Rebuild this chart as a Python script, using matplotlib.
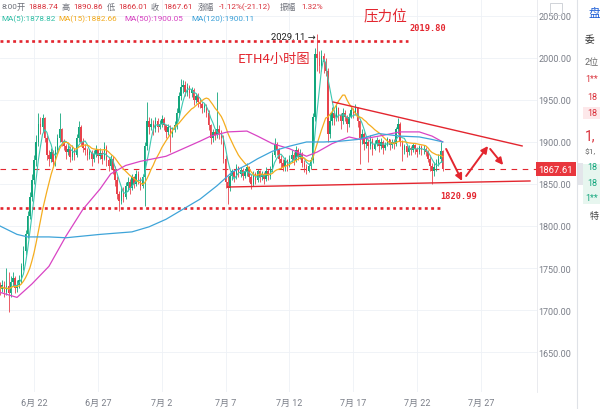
import numpy as np
import pandas as pd
import matplotlib
matplotlib.use('Agg')
import matplotlib.pyplot as plt
import matplotlib.transforms as mtransforms
from matplotlib.patches import Rectangle

plt.rcParams['font.family'] = ['Roboto', 'Noto Sans CJK SC', 'DejaVu Sans']

# ETH 4h candles, 6/19 08:00 -> 7/24
first_open = 1730
close = [1725, 1730, 1722, 1728, 1720, 1733, 1738, 1726, 1730, 1736,
         1752, 1770, 1790, 1812, 1835, 1855, 1878, 1900, 1922,
         1918, 1928, 1905, 1885,
         1880, 1888, 1876, 1890,
         1905, 1915, 1900,
         1895, 1888, 1892, 1882, 1890, 1885,
         1905, 1918, 1900, 1893,
         1890, 1884, 1888, 1880, 1886, 1890, 1883, 1887,
         1880, 1894, 1878, 1872, 1880, 1868,
         1855, 1838, 1830, 1842, 1835, 1848,
         1852, 1845, 1858, 1850, 1862, 1855, 1848, 1858,
         1895, 1925, 1918,
         1922, 1915, 1925, 1918, 1922, 1927, 1920,
         1912, 1918, 1910, 1915, 1920,
         1935, 1955, 1965, 1968, 1960,
         1965, 1958, 1962, 1950, 1955, 1948, 1945,
         1940, 1943, 1935, 1920,
         1905, 1912, 1908,
         1915, 1910, 1905,
         1880, 1852, 1845,
         1860, 1865, 1858, 1870, 1862, 1867, 1860, 1865, 1870, 1858,
         1850, 1862, 1855, 1865, 1858, 1862, 1856, 1866, 1860, 1868,
         1885, 1898, 1890,
         1880, 1875, 1870, 1878, 1872, 1880,
         1885, 1878, 1890, 1882, 1886, 1875,
         1870, 1866, 1872, 1878,
         1930, 2005, 2000, 1990, 2002, 1995, 1985,
         1910, 1925,
         1935, 1928, 1940, 1932, 1925, 1935, 1930, 1922, 1930, 1938, 1935, 1940,
         1925, 1905, 1910, 1898,
         1900, 1895, 1903, 1892, 1898, 1902, 1895, 1900, 1893, 1897, 1903, 1896, 1900, 1898,
         1915, 1922, 1900,
         1890, 1895, 1888, 1893, 1890, 1896, 1892, 1888, 1894, 1890, 1892, 1888,
         1880, 1872, 1865,
         1870, 1875, 1880, 1888.74,
         1867.61]
high = [1733, 1736, 1734, 1750, 1745, 1740, 1745, 1740, 1736, 1742,
        1756, 1776, 1795, 1818, 1840, 1862, 1884, 1908, 1935,
        1930, 1933, 1930, 1908,
        1890, 1893, 1890, 1895,
        1910, 1935, 1917,
        1903, 1898, 1897, 1895, 1896, 1893,
        1910, 1925, 1920, 1905,
        1898, 1893, 1892, 1890, 1890, 1896, 1892, 1893,
        1890, 1900, 1896, 1882, 1885, 1883,
        1872, 1860, 1842, 1847, 1846, 1852,
        1858, 1856, 1862, 1860, 1867, 1865, 1858, 1862,
        1900, 1948, 1930,
        1928, 1926, 1930, 1928, 1926, 1932, 1930,
        1922, 1922, 1920, 1918, 1925,
        1940, 1960, 1975, 1974, 1972,
        1970, 1968, 1966, 1964, 1958, 1958, 1952,
        1948, 1947, 1945, 1938,
        1922, 1916, 1915,
        1959, 1920, 1914,
        1908, 1884, 1860,
        1863, 1868, 1867, 1874, 1872, 1870, 1869, 1868, 1875, 1872,
        1862, 1866, 1864, 1868, 1867, 1866, 1864, 1870, 1868, 1872,
        1888, 1905, 1900,
        1893, 1884, 1880, 1882, 1880, 1885,
        1890, 1888, 1895, 1893, 1892, 1888,
        1878, 1874, 1875, 1882,
        1935, 2012, 2029.11, 2008, 2010, 2006, 2000,
        1988, 1935,
        1942, 1938, 1945, 1942, 1935, 1940, 1938, 1932, 1935, 1942, 1940, 1945,
        1942, 1926, 1915, 1912,
        1906, 1903, 1908, 1905, 1902, 1906, 1904, 1905, 1902, 1900, 1906, 1904, 1903, 1904,
        1918, 1928, 1924,
        1902, 1898, 1896, 1897, 1895, 1899, 1898, 1894, 1897, 1896, 1896, 1894,
        1890, 1884, 1875,
        1876, 1880, 1886, 1900,
        1890.86]
low = [1718, 1722, 1716, 1718, 1698, 1716, 1728, 1720, 1722, 1726,
       1732, 1748, 1765, 1786, 1808, 1830, 1850, 1872, 1895,
       1910, 1912, 1900, 1878,
       1872, 1876, 1870, 1872,
       1886, 1900, 1895,
       1890, 1880, 1884, 1876, 1878, 1878,
       1882, 1900, 1895, 1888,
       1885, 1878, 1880, 1872, 1876, 1882, 1875, 1880,
       1874, 1878, 1872, 1865, 1868, 1862,
       1848, 1832, 1818, 1826, 1828, 1832,
       1842, 1838, 1843, 1845, 1848, 1850, 1843, 1845,
       1824, 1890, 1910,
       1914, 1908, 1912, 1912, 1915, 1918, 1914,
       1905, 1908, 1888, 1906, 1912,
       1916, 1930, 1950, 1958, 1955,
       1955, 1952, 1953, 1944, 1946, 1942, 1940,
       1935, 1936, 1930, 1914,
       1898, 1900, 1902,
       1905, 1904, 1898,
       1875, 1845, 1826,
       1842, 1855, 1852, 1856, 1858, 1858, 1855, 1857, 1860, 1852,
       1844, 1848, 1850, 1852, 1852, 1855, 1850, 1854, 1855, 1856,
       1864, 1882, 1884,
       1875, 1868, 1865, 1866, 1866, 1870,
       1876, 1873, 1876, 1878, 1880, 1870,
       1864, 1862, 1864, 1868,
       1875, 1925, 1985, 1982, 1985, 1982, 1978,
       1900, 1905,
       1920, 1920, 1925, 1925, 1915, 1922, 1925, 1912, 1918, 1928, 1928, 1932,
       1918, 1874, 1898, 1890,
       1893, 1876, 1892, 1885, 1890, 1895, 1888, 1892, 1886, 1890, 1895, 1890, 1893, 1892,
       1895, 1910, 1895,
       1877, 1886, 1882, 1885, 1884, 1888, 1886, 1882, 1886, 1885, 1886, 1883,
       1876, 1866, 1850,
       1860, 1866, 1872, 1876,
       1866.01]

# slow moving averages (candle index, value)
ma50_idx = [0, 8, 15, 23, 31, 39, 47, 52, 59, 66, 78, 86, 94, 99, 107, 116, 121,
            128, 136, 144, 149, 156, 164, 169, 178, 188, 197, 203, 208]
ma50_val = [1721, 1715, 1731, 1752, 1788, 1820, 1844, 1862, 1872, 1877, 1883, 1892,
            1901, 1907, 1912, 1913, 1907, 1898, 1892, 1883, 1888, 1898, 1906, 1903,
            1907, 1912, 1912, 1907, 1900.05]
ma120_idx = [0, 8, 13, 23, 31, 39, 47, 62, 70, 78, 86, 94, 102, 109, 117, 121, 128,
             136, 144, 152, 160, 168, 178, 188, 197, 203, 208]
ma120_val = [1800, 1790, 1787, 1787, 1786, 1788, 1790, 1793, 1799, 1808, 1820, 1832,
             1848, 1864, 1874, 1880, 1889, 1895, 1900, 1900, 1901, 1903, 1910, 1907,
             1906, 1903, 1900.11]

date_idx = [16, 46, 76, 106, 136, 166, 196, 226]
date_labels = ['6月 22', '6月 27', '7月 2', '7月 7', '7月 12', '7月 17', '7月 22', '7月 27']
price_ticks = [1650, 1700, 1750, 1800, 1850, 1900, 1950, 2000, 2050]

last_price = 1867.61
resist_level = 2019.80
support_level = 1820.99
# hand-drawn lines on the chart (candle index, price)
wedge_top = ([156.5, 245.3], [1947.6, 1895.3])
wedge_bottom = ([107, 249], [1846.4, 1853.6])
arrows = [((209.6, 1891.7), (217.1, 1853.6)),
          ((219.0, 1859.5), (229.3, 1895.2)),
          ((230.3, 1891.7), (236.4, 1872.6))]

up_col = '#12a67c'
down_col = '#e8424b'
red = '#e3262f'

closes = np.array(close, dtype=float)
opens = np.r_[first_open, closes[:-1]]
opens[-1] = 1888.74
highs = np.maximum(np.array(high, dtype=float), np.maximum(opens, closes))
lows = np.minimum(np.array(low, dtype=float), np.minimum(opens, closes))
idx = np.arange(len(closes))
ma5 = pd.Series(closes).rolling(5, min_periods=1).mean()
ma15 = pd.Series(closes).rolling(15, min_periods=1).mean()

fig = plt.figure(figsize=(6, 4.1), dpi=100)
ax = fig.add_axes([0, 17 / 410, 537 / 600, 393 / 410])

# candles
colors = np.where(closes >= opens, up_col, down_col)
ax.vlines(idx, lows, highs, colors=colors, linewidth=0.6, zorder=3)
body = np.maximum(np.abs(closes - opens), 0.8)
ax.bar(idx, body, bottom=np.minimum(opens, closes), width=0.7,
       color=colors, linewidth=0, zorder=3)

# moving averages
ax.plot(idx, ma5, color='#3cc7b0', lw=0.8, zorder=4)
ax.plot(idx, ma15, color='#f5ad1f', lw=0.9, zorder=4)
ax.plot(ma50_idx, ma50_val, color='#d944c4', lw=0.9, zorder=4)
ax.plot(ma120_idx, ma120_val, color='#3ea4d9', lw=0.9, zorder=4)

# levels and annotations
ax.axhline(last_price, color=red, lw=0.8, ls=(0, (5, 5)), zorder=2)
ax.plot([0, 191.5], [resist_level] * 2, color=red, lw=1.9, ls=(0, (1.1, 1.3)), zorder=2)
ax.plot([0, 206.5], [support_level] * 2, color=red, lw=1.9, ls=(0, (1.1, 1.3)), zorder=2)
ax.plot(*wedge_top, color=red, lw=1.0, zorder=5)
ax.plot(*wedge_bottom, color=red, lw=1.0, zorder=5)
for start, end in arrows:
    ax.annotate('', xy=end, xytext=start,
                arrowprops=dict(arrowstyle='-|>', color=red, lw=1.4,
                                mutation_scale=10, shrinkA=0, shrinkB=0))

mono = ['DejaVu Sans Mono']
ax.text(192.5, 2033, f'{resist_level:.2f}', color=red, fontsize=6.2, family=mono,
        fontweight='bold')
ax.text(207, 1833, f'{support_level:.2f}', color=red, fontsize=6.2, family=mono,
        fontweight='bold')
ax.text(181, 2050, '压力位', color=red, fontsize=10.5, ha='center', va='center',
        family=['Noto Sans CJK SC', 'DejaVu Sans'])
ax.text(111.5, 1999, 'ETH4小时图', color=red, fontsize=9.5, va='center',
        family=['Noto Sans CJK SC', 'DejaVu Sans'])
ax.text(148.5, 2026, '2029.11 →', color='#222222', fontsize=6.8, ha='right',
        va='center', family=['Roboto', 'DejaVu Sans'])

# axes styling
ax.set_xlim(0, 252.3)
ax.set_ylim(1602.4, 2070.2)
ax.set_xticks(date_idx)
ax.set_xticklabels(date_labels)
ax.yaxis.tick_right()
ax.set_yticks(price_ticks)
ax.set_yticklabels([f'{p:.2f}' for p in price_ticks])
ax.tick_params(axis='both', length=0, labelsize=6.5, labelcolor='#7a7e88')
ax.tick_params(axis='x', pad=4)
ax.tick_params(axis='y', pad=1)
ax.grid(True, color='#eef1f6', lw=0.6)
ax.set_axisbelow(True)
for s in ['top', 'left', 'bottom']:
    ax.spines[s].set_visible(False)
ax.spines['right'].set_color('#e6e8ec')
ax.spines['right'].set_linewidth(0.6)

# price tag on the right axis
trans = mtransforms.blended_transform_factory(ax.transAxes, ax.transData)
ax.text(1.003, last_price, f'{last_price:.2f}', transform=trans, color='white',
        fontsize=6.8, va='center', ha='left',
        bbox=dict(boxstyle='square,pad=0.28', fc='#e8363d', ec='none'), zorder=10)

# header lines
def head(x, y, s, c, size=5.9):
    fig.text(x / 600, 1 - y / 410, s, color=c, fontsize=size, va='center', ha='left')

gray = '#6c6f78'
num = '#d9303a'
head(1, 7, '8:00', gray)
head(17, 7, '开', gray)
head(28, 7, '1888.74', num)
head(62, 7, '高', gray)
head(73, 7, '1890.86', num)
head(107, 7, '低', gray)
head(118, 7, '1866.01', num)
head(151, 7, '收', gray)
head(163, 7, '1867.61', num)
head(198, 7, '涨幅', gray)
head(219, 7, '-1.12%(-21.12)', num)
head(280, 7, '振幅', gray)
head(301, 7, '1.32%', num)
head(1, 19, 'MA(5):1878.82', '#2fbfa5')
head(58, 19, 'MA(15):1882.66', '#f2a91a')
head(124, 19, 'MA(50):1900.05', '#d63fc0')
head(191, 19, 'MA(120):1900.11', '#3aa0d8')

# small icon and cut-off side panel
fig.patches.append(Rectangle((550 / 600, 1 - 16 / 410), 12 / 600, 12 / 410,
                             transform=fig.transFigure, fill=False,
                             ec='#c9ccd2', lw=0.6))
fig.lines.append(plt.Line2D([577 / 600] * 2, [0, 1], transform=fig.transFigure,
                            color='#dfe2e7', lw=0.8))
fig.patches.append(Rectangle((577 / 600, 1 - 186 / 410), 6 / 600, 22 / 410,
                             transform=fig.transFigure, fc='#e3e5ea', ec='none'))
fig.patches.append(Rectangle((583 / 600, 1 - 120 / 410), 17 / 600, 12 / 410,
                             transform=fig.transFigure, fc='#fde8ea', ec='none'))
fig.patches.append(Rectangle((583 / 600, 1 - 205 / 410), 17 / 600, 40 / 410,
                             transform=fig.transFigure, fc='#e7f6ef', ec='none'))
side = [(588, 13, '盘', '#1f5fd6', 8.5), (585, 40, '委', '#333333', 7),
        (585, 62, '2位', '#666666', 6.5), (585, 80, '1**', '#d9303a', 6.5),
        (587, 98, '18', '#d9303a', 6.5), (587, 114, '18', '#d9303a', 6.5),
        (585, 136, '1,', '#d9303a', 10), (585, 152, '$1,', '#666666', 6),
        (587, 168, '18', '#12a67c', 6.5), (587, 184, '18', '#12a67c', 6.5),
        (585, 199, '1**', '#12a67c', 6.5), (590, 217, '特', '#444444', 6.5)]
for x, y, s, c, size in side:
    head(x, y, s, c, size)

plt.savefig('out.png', dpi=100)
